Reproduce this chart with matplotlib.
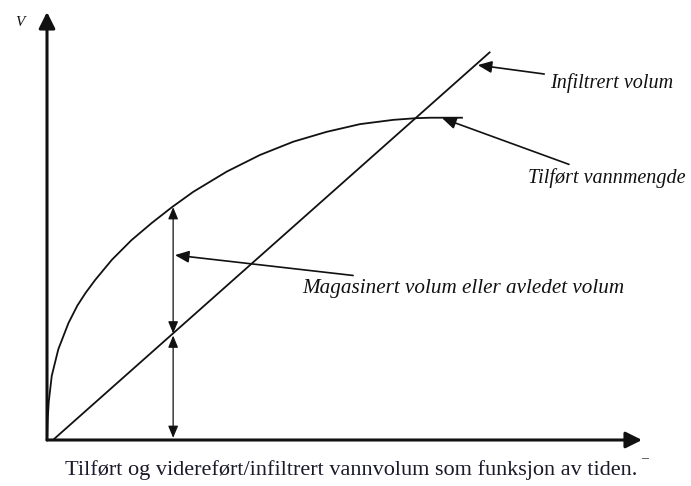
import matplotlib
matplotlib.use("Agg")
import matplotlib.pyplot as plt

# Tilført vannmengde (supplied water) curve: time, volume (arbitrary units)
t_supply = [0.0, 0.01, 0.03, 0.08, 0.19, 0.36, 0.51, 0.65, 0.81, 1.09, 1.42, 1.76,
            2.10, 2.46, 3.02, 3.58, 4.14, 4.70, 5.26, 5.82, 6.21, 6.44, 6.99]
v_supply = [0.0, 0.45, 0.90, 1.50, 2.12, 2.73, 3.14, 3.44, 3.74, 4.21, 4.67, 5.07,
            5.44, 5.80, 6.27, 6.66, 6.97, 7.20, 7.38, 7.48, 7.52, 7.53, 7.53]

# Infiltrert volum (infiltrated volume) straight line
t_infil = [0.10, 7.45]
v_infil = [0.0, 9.07]

# Measurement position for the stored / infiltrated volume arrows
t_mark = 2.12
v_mark_top = 5.44
v_mark_mid = 2.49

labels = {
    "infil": "Infiltrert volum",
    "supply": "Tilført vannmengde",
    "stored": "Magasinert volum eller avledet volum",
}
caption = "Tilført og videreført/infiltrert vannvolum som funksjon av tiden."
y_label = "V"

W, H = 691, 486
fig = plt.figure(figsize=(W / 100, H / 100), dpi=100)
ax = fig.add_axes([47 / W, (486 - 440) / H, 595 / W, 428 / H])
ax.set_xlim(0, 10)
ax.set_ylim(0, 10)
ax.axis("off")

ink = "#111111"
# axes with arrows
for end in [(10, 0), (0, 10)]:
    ax.annotate("", xy=end, xytext=(0, 0),
                arrowprops=dict(arrowstyle="-|>,head_length=0.7,head_width=0.35",
                                lw=2.2, color=ink, shrinkA=0, shrinkB=0,
                                mutation_scale=14),
                annotation_clip=False)

ax.plot(t_supply, v_supply, color=ink, lw=1.3, solid_capstyle="butt",
        solid_joinstyle="round")
ax.plot(t_infil, v_infil, color=ink, lw=1.3, solid_capstyle="butt")

arr = dict(arrowstyle="<|-|>,head_length=0.6,head_width=0.25", lw=0.9, color=ink,
           shrinkA=0, shrinkB=0, mutation_scale=12)
ax.annotate("", xy=(t_mark, v_mark_top), xytext=(t_mark, v_mark_mid), arrowprops=arr)
ax.annotate("", xy=(t_mark, v_mark_mid - 0.05), xytext=(t_mark, 0.05), arrowprops=arr)

tfont = dict(family="Liberation Serif", style="italic", size=14.5, color=ink,
             va="center", ha="left")
pointer = dict(arrowstyle="-|>,head_length=0.7,head_width=0.3", lw=1.2, color=ink,
               shrinkA=2, shrinkB=0, mutation_scale=12)

ax.annotate(labels["infil"], xy=(7.24, 8.76), xytext=(8.45, 8.34),
            arrowprops=pointer, annotation_clip=False, **tfont)
ax.annotate(labels["supply"], xy=(6.64, 7.52), xytext=(8.08, 6.12),
            arrowprops=pointer, annotation_clip=False, **tfont)
ax.annotate(labels["stored"], xy=(2.15, 4.32), xytext=(4.29, 3.55),
            arrowprops=pointer, annotation_clip=False,
            **{**tfont, "size": 15.2})

fig.text(15 / W, 1 - 22 / H, y_label, family="Liberation Serif", style="italic",
         size=11, color=ink, ha="left", va="center")

fig.text(351 / W, 1 - 470 / H, caption, family="Liberation Serif", size=16,
         color="#1a1a2a", ha="center", va="center")
fig.text(645 / W, 1 - 459 / H, "\u2013", family="Liberation Serif", size=10,
         color="#333333", ha="center", va="center")

fig.savefig("out.png", dpi=100, facecolor="white")
